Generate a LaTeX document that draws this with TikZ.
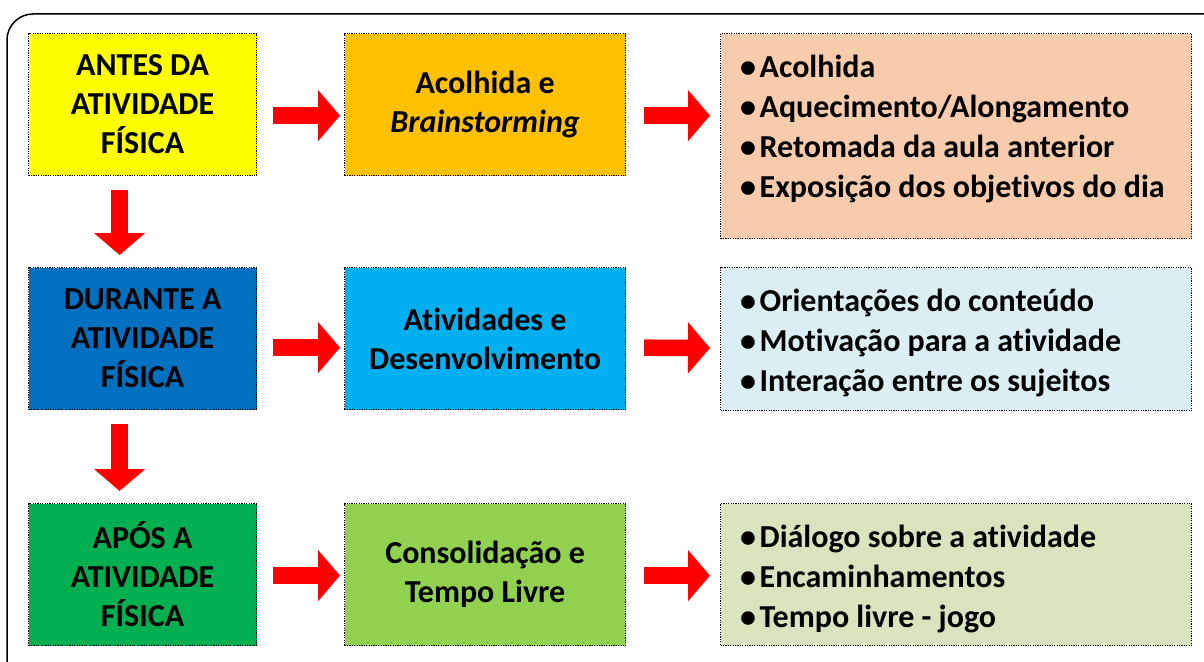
\documentclass[tikz,border=0pt]{standalone}
\usepackage{fontspec}
\setmainfont{Carlito}[Ligatures=NoCommon]
\usetikzlibrary{arrows.meta}
\definecolor{cYel}{HTML}{FFFF00}
\definecolor{cOra}{HTML}{FFC000}
\definecolor{cPea}{HTML}{F8CBAD}
\definecolor{cDBl}{HTML}{0070C0}
\definecolor{cLBl}{HTML}{00B0F0}
\definecolor{cPBl}{HTML}{DAEEF3}
\definecolor{cDGr}{HTML}{00B050}
\definecolor{cLGr}{HTML}{92D050}
\definecolor{cPGr}{HTML}{D7E4BD}
\begin{document}
\begin{tikzpicture}[x=1pt,y=-1pt,
  box/.style={draw=black, line width=1.2pt, dash pattern=on 1.2pt off 1.2pt,
    inner sep=0pt, anchor=north west, align=center,
    font=\fontsize{32}{39}\selectfont\bfseries},
  colA/.style={box, minimum width=228pt, minimum height=142pt},
  colB/.style={box, minimum width=281pt, minimum height=142pt},
  colC/.style={box, minimum width=471pt},
  list/.style={anchor=west, align=left, inner sep=0pt,
    font=\fontsize{32}{40.3}\selectfont\bfseries},
  bigarrow/.style={draw=red, line width=16.5pt,
    -{Triangle[length=22pt,width=50pt]}},
]
\useasboundingbox (0,0) rectangle (1204,661);
\draw[line width=1.5pt, rounded corners=26pt] (7,14) rectangle (1230,690);

% column A
\node[colA, fill=cYel] (a1) at (28,33) {ANTES DA\\ATIVIDADE\\FÍSICA};
\node[colA, fill=cDBl] (a2) at (28,267) {DURANTE A\\ATIVIDADE\\FÍSICA};
\node[colA, fill=cDGr] (a3) at (28,503) {APÓS A\\ATIVIDADE\\FÍSICA};

% column B
\node[colB, fill=cOra] (b1) at (344,33) {Acolhida e\\\itshape Brainstorming};
\node[colB, fill=cLBl] (b2) at (344,267) {Atividades e\\Desenvolvimento};
\node[colB, fill=cLGr] (b3) at (344,503) {Consolidação e\\Tempo Livre};

% column C
\node[colC, fill=cPea, minimum height=205pt] (c1) at (720,33) {};
\node[colC, fill=cPBl, minimum height=143pt] (c2) at (720,267) {};
\node[colC, fill=cPGr, minimum height=142pt] (c3) at (720,503) {};

\node[list] (t1) at (740,129) {\textbullet\hspace{3.5pt}Acolhida\\
  \textbullet\hspace{3.5pt}Aquecimento/Alongamento\\
  \textbullet\hspace{3.5pt}Retomada da aula anterior\\
  \textbullet\hspace{3.5pt}Exposição dos objetivos do dia};
\node[list] (t2) at (740,343) {\textbullet\hspace{3.5pt}Orientações do conteúdo\\
  \textbullet\hspace{3.5pt}Motivação para a atividade\\
  \textbullet\hspace{3.5pt}Interação entre os sujeitos};
\node[list] (t3) at (740,579) {\textbullet\hspace{3.5pt}Diálogo sobre a atividade\\
  \textbullet\hspace{3.5pt}Encaminhamentos\\
  \textbullet\hspace{3.5pt}Tempo livre - jogo};

% horizontal arrows
\draw[bigarrow, shorten <=16pt, shorten >=4pt] ([yshift=-11pt]a1.east) -- ([yshift=-11pt]b1.west);
\draw[bigarrow, shorten <=18pt, shorten >=10pt] ([yshift=-11pt]b1.east) -- ([yshift=-11pt]c1.west |- b1.east);
\draw[bigarrow, shorten <=16pt, shorten >=4pt] ([yshift=-9pt]a2.east) -- ([yshift=-9pt]b2.west);
\draw[bigarrow, shorten <=18pt, shorten >=10pt] ([yshift=-9pt]b2.east) -- ([yshift=-9pt]c2.west);
\draw[bigarrow, shorten <=16pt, shorten >=4pt] ([yshift=-1pt]a3.east) -- ([yshift=-1pt]b3.west);
\draw[bigarrow, shorten <=18pt, shorten >=10pt] ([yshift=-1pt]b3.east) -- ([yshift=-1pt]c3.west);

% vertical arrows
\draw[bigarrow, line width=17pt, shorten <=14pt, shorten >=12pt] ([xshift=-23pt]a1.south) -- ([xshift=-23pt]a2.north);
\draw[bigarrow, line width=17pt, shorten <=14pt, shorten >=12pt] ([xshift=-23pt]a2.south) -- ([xshift=-23pt]a3.north);
\end{tikzpicture}
\end{document}
